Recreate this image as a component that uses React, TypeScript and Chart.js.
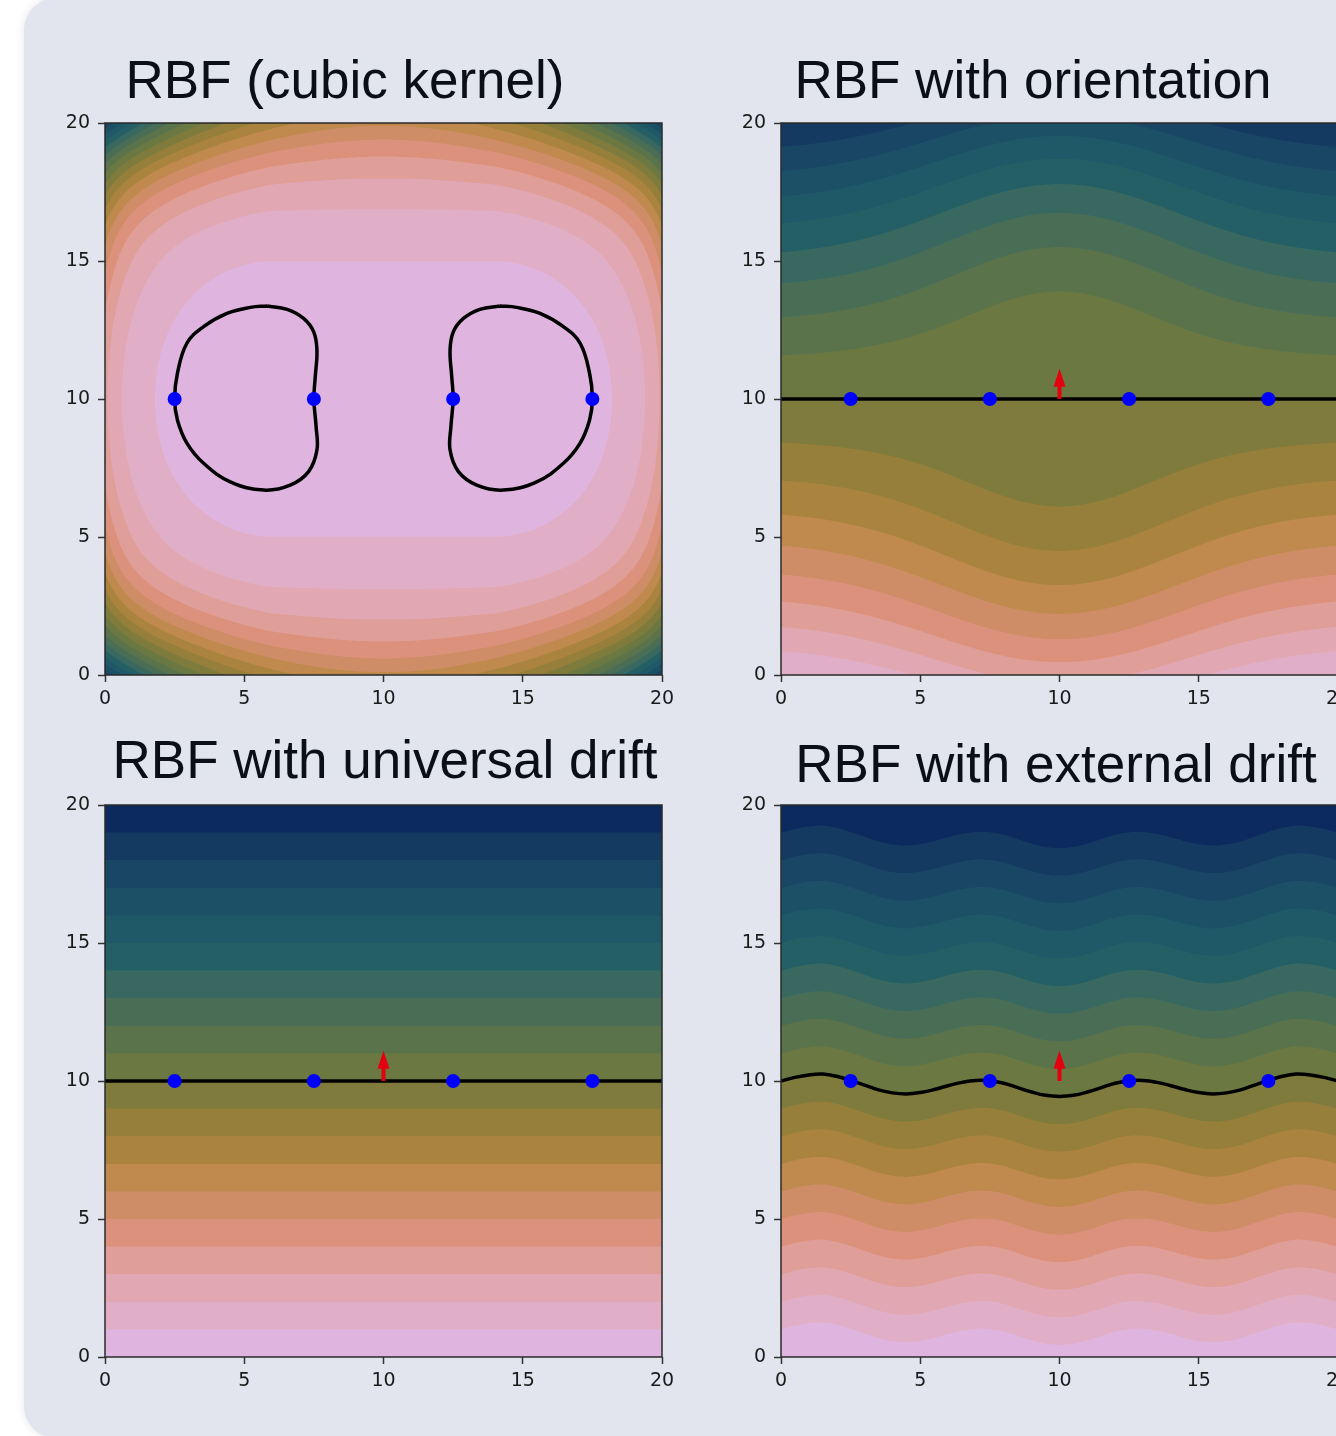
import React, { useEffect, useRef } from 'react';
import { Chart, registerables } from 'chart.js';

Chart.register(...registerables);

// ---------------- data ----------------
const axisTicks = [0, 5, 10, 15, 20];
const contourLevels = [0, 1, 2, 3, 4, 5, 6, 7, 8, 9, 10, 11, 12, 13, 14, 15, 16, 17, 18, 19, 20];
// fill colour of each band, lowest level (pink) to highest (navy)
const bandColors = [
  '#dfb5df', '#e0afc7', '#e1a7b2', '#e09e98', '#dc917c', '#cf8d67', '#c08a4f', '#aa843f', '#967f3b', '#7f7b3c',
  '#6b7842', '#5b734a', '#4a6e55', '#38685f', '#255f66', '#1f5968', '#1b5066', '#184664', '#153a62', '#0d2a5f',
];

const panelTitles = ['RBF (cubic kernel)', 'RBF with orientation', 'RBF with universal drift', 'RBF with external drift'];

// interface points (blue) and orientation (red arrow)
const interfaceX = [2.5, 7.5, 12.5, 17.5];
const interfaceY = [10, 10, 10, 10];
const orientationX = [10];
const orientationY = [10];
const orientationDY = [1.1];

// zero contour of the cubic-kernel interpolant (two closed loops)
const loopLeftX = [5.82, 6.54, 7.13, 7.49, 7.61, 7.55, 7.5, 7.58, 7.61, 7.31, 6.65, 5.7, 4.5, 3.54, 2.94, 2.6, 2.5, 2.6, 2.94, 3.54, 4.38, 5.22, 5.82];
const loopLeftY = [13.37, 13.25, 12.92, 12.44, 11.78, 10.81, 10.0, 9.0, 8.15, 7.37, 6.88, 6.7, 7.0, 7.67, 8.4, 9.24, 10.0, 10.93, 12.02, 12.62, 13.1, 13.32, 13.37];
const loopRightX = [14.18, 13.46, 12.87, 12.51, 12.39, 12.45, 12.5, 12.42, 12.39, 12.69, 13.35, 14.3, 15.5, 16.46, 17.06, 17.4, 17.5, 17.4, 17.06, 16.46, 15.62, 14.78, 14.18];
const loopRightY = [13.37, 13.25, 12.92, 12.44, 11.78, 10.81, 10.0, 9.0, 8.15, 7.37, 6.88, 6.7, 7.0, 7.67, 8.4, 9.24, 10.0, 10.93, 12.02, 12.62, 13.1, 13.32, 13.37];

// flat zero contour (orientation / universal drift)
const flatContourX = [0, 20];
const flatContourY = [10, 10];

// wavy zero contour (external drift)
const driftX = [0, 0.5, 1, 1.5, 2, 2.5, 3, 3.5, 4, 4.5, 5, 5.5, 6, 6.5, 7, 7.5, 8, 8.5, 9, 9.5, 10,
  10.5, 11, 11.5, 12, 12.5, 13, 13.5, 14, 14.5, 15, 15.5, 16, 16.5, 17, 17.5, 18, 18.5, 19, 19.5, 20];
const driftY = [10.0, 10.13, 10.22, 10.25, 10.17, 10.02, 9.85, 9.68, 9.57, 9.53, 9.58, 9.69, 9.83, 9.95, 10.02, 10.01, 9.92, 9.76, 9.6, 9.48, 9.44,
  9.48, 9.6, 9.76, 9.92, 10.01, 10.02, 9.95, 9.83, 9.69, 9.58, 9.53, 9.57, 9.68, 9.85, 10.02, 10.17, 10.25, 10.22, 10.13, 10.0];

const cubicFlatHalf = [4.0];             // half-length of the flat top of the inner bands
const cubicInnerStretch = [1.15, 2.8e-5]; // inner bands: stretch beyond the flat part (linear, 6th power)
const cubicOuterStretch = [0.815];        // outer bands: nearly round
const cubicBlendRange = [5, 10];          // |y - 10| over which inner bands turn into outer ones
const cubicGrowth = [0.162, 0.365];       // level = a * exp(b * distance)
const orientEdgeCoefs = [0.62, 0.03];   // growth away from the line at the borders
const orientCentreCoefs = [0.0, 0.066]; // growth away from the line above the arrow
const orientSpread = [6];

// ---------------- layout ----------------
const W = 557;
const H = 552;
const PAD_L = 70;
const PAD_T = 20;
const PAD_R = 20;
const PAD_B = 45;
const panelBoxes = [
  { left: 105, top: 123, titleCx: 345, titleBase: 98 },
  { left: 781, top: 123, titleCx: 1033, titleBase: 98 },
  { left: 105, top: 805, titleCx: 385, titleBase: 778 },
  { left: 781, top: 805, titleCx: 1056, titleBase: 782 },
];

// ---------------- fields ----------------
const centreX = (interfaceX[0] + interfaceX[interfaceX.length - 1]) / 2;
const centreY = interfaceY[0];

function fieldCubic(x: number, y: number) {
  const dx = Math.abs(x - centreX);
  const dy = Math.abs(y - centreY);
  const u = Math.max(dx - cubicFlatHalf[0], 0);
  const u3 = u * u * u;
  const hi = cubicInnerStretch[0] * u + cubicInnerStretch[1] * u3 * u3;
  const ho = cubicOuterStretch[0] * dx;
  let s = (dy - cubicBlendRange[0]) / (cubicBlendRange[1] - cubicBlendRange[0]);
  s = Math.min(Math.max(s, 0), 1);
  const t = s * s * (3 - 2 * s);
  const h = (1 - t) * hi + t * ho;
  const dist = Math.sqrt(h * h + dy * dy);
  return cubicGrowth[0] * Math.exp(cubicGrowth[1] * dist);
}

function fieldOrientation(x: number, y: number) {
  const d = y - orientationY[0];
  const t = (x - orientationX[0]) / orientSpread[0];
  const w = Math.exp(-t * t);
  const a = orientEdgeCoefs[0] * (1 - w) + orientCentreCoefs[0] * w;
  const b = orientEdgeCoefs[1] * (1 - w) + orientCentreCoefs[1] * w;
  const ad = Math.abs(d);
  return contourLevels[10] + Math.sign(d) * (a * ad + b * ad * ad);
}

function fieldUniversal(_x: number, y: number) {
  return y;
}

function driftAt(x: number) {
  const step = driftX[1] - driftX[0];
  const n = driftY.length;
  let s = (x - driftX[0]) / step;
  if (s < 0) s = 0;
  if (s > n - 1) s = n - 1;
  let i = Math.floor(s);
  if (i >= n - 1) i = n - 2;
  const t = s - i;
  const p0 = driftY[Math.max(i - 1, 0)];
  const p1 = driftY[i];
  const p2 = driftY[i + 1];
  const p3 = driftY[Math.min(i + 2, n - 1)];
  return 0.5 * (2 * p1 + (-p0 + p2) * t + (2 * p0 - 5 * p1 + 4 * p2 - p3) * t * t + (-p0 + 3 * p1 - 3 * p2 + p3) * t * t * t);
}

function fieldExternal(x: number, y: number) {
  return y - (driftAt(x) - contourLevels[10]);
}

const fields = [fieldCubic, fieldOrientation, fieldUniversal, fieldExternal];

function hexToRgb(h: string) {
  const v = parseInt(h.slice(1), 16);
  return [(v >> 16) & 255, (v >> 8) & 255, v & 255];
}
const bandRgb = bandColors.map(hexToRgb);

function bandIndex(f: number) {
  let k = 0;
  for (let i = 1; i < contourLevels.length - 1; i++) {
    if (f >= contourLevels[i]) k = i;
  }
  return k;
}

function makeFieldPlugin(field: (x: number, y: number) => number) {
  return {
    id: 'contourFill',
    beforeDatasetsDraw(chart: any) {
      const { ctx, chartArea: ca, scales } = chart;
      const xs = scales.x;
      const ys = scales.y;
      const left = Math.round(ca.left);
      const top = Math.round(ca.top);
      const w = Math.round(ca.right - ca.left);
      const h = Math.round(ca.bottom - ca.top);
      const S = 2;
      const xv: number[] = [];
      const yv: number[] = [];
      for (let i = 0; i < w * S; i++) xv.push(xs.getValueForPixel(left + (i + 0.5) / S));
      for (let j = 0; j < h * S; j++) yv.push(ys.getValueForPixel(top + (j + 0.5) / S));
      const img = ctx.createImageData(w, h);
      const d = img.data;
      for (let j = 0; j < h; j++) {
        for (let i = 0; i < w; i++) {
          let r = 0, g = 0, b = 0;
          for (let sj = 0; sj < S; sj++) {
            for (let si = 0; si < S; si++) {
              const c = bandRgb[bandIndex(field(xv[i * S + si], yv[j * S + sj]))];
              r += c[0]; g += c[1]; b += c[2];
            }
          }
          const o = (j * w + i) * 4;
          d[o] = r / (S * S);
          d[o + 1] = g / (S * S);
          d[o + 2] = b / (S * S);
          d[o + 3] = 255;
        }
      }
      ctx.putImageData(img, left, top);
    },
  };
}

const arrowPlugin = {
  id: 'orientationArrow',
  afterDatasetsDraw(chart: any) {
    const { ctx, scales } = chart;
    ctx.save();
    ctx.fillStyle = '#e3000f';
    for (let k = 0; k < orientationX.length; k++) {
      const px = scales.x.getPixelForValue(orientationX[k]);
      const py0 = scales.y.getPixelForValue(orientationY[k]);
      const py1 = scales.y.getPixelForValue(orientationY[k] + orientationDY[k]);
      const headLen = 18;
      const headHalf = 6;
      const shaftHalf = 2;
      const base = py1 + headLen;
      ctx.beginPath();
      ctx.moveTo(px - shaftHalf, py0);
      ctx.lineTo(px - shaftHalf, base);
      ctx.lineTo(px - headHalf, base);
      ctx.lineTo(px, py1);
      ctx.lineTo(px + headHalf, base);
      ctx.lineTo(px + shaftHalf, base);
      ctx.lineTo(px + shaftHalf, py0);
      ctx.closePath();
      ctx.fill();
    }
    ctx.restore();
  },
};

const framePlugin = {
  id: 'frame',
  afterDraw(chart: any) {
    const { ctx, chartArea: ca } = chart;
    ctx.save();
    ctx.strokeStyle = '#2a2a2a';
    ctx.lineWidth = 1.5;
    ctx.strokeRect(ca.left, ca.top, ca.right - ca.left, ca.bottom - ca.top);
    ctx.restore();
  },
};

function toPoints(xs: number[], ys: number[]) {
  return xs.map((x, i) => ({ x, y: ys[i] }));
}

function lineDataset(xs: number[], ys: number[]) {
  return {
    type: 'scatter',
    data: toPoints(xs, ys),
    showLine: true,
    borderColor: '#000000',
    borderWidth: 3.5,
    pointRadius: 0,
    tension: 0.4,
    fill: false,
    order: 2,
  };
}

function buildDatasets(kind: number) {
  const sets: any[] = [];
  if (kind === 0) {
    sets.push(lineDataset(loopLeftX, loopLeftY));
    sets.push(lineDataset(loopRightX, loopRightY));
  } else if (kind === 3) {
    sets.push(lineDataset(driftX, driftY));
  } else {
    sets.push({ ...lineDataset(flatContourX, flatContourY), tension: 0 });
  }
  sets.push({
    type: 'scatter',
    data: toPoints(interfaceX, interfaceY),
    pointRadius: 7,
    pointHoverRadius: 7,
    backgroundColor: '#0000ff',
    borderWidth: 0,
    order: 0,
  });
  return sets;
}

const tickFont = { family: "'DejaVu Sans', sans-serif", size: 19 };

function axis(isX: boolean) {
  return {
    type: 'linear',
    min: 0,
    max: 20,
    afterFit: (s: any) => {
      if (isX) s.height = PAD_B;
      else s.width = PAD_L;
    },
    afterBuildTicks: (s: any) => {
      s.ticks = axisTicks.map((v) => ({ value: v }));
    },
    ticks: {
      stepSize: 5,
      autoSkip: false,
      maxRotation: 0,
      color: '#1a1a1a',
      font: tickFont,
      padding: isX ? 6 : 8,
    },
    grid: {
      display: true,
      drawOnChartArea: false,
      drawTicks: true,
      tickLength: 7,
      tickWidth: 1.5,
      tickColor: '#333333',
    },
    border: { display: false },
  };
}

function Panel({ kind }: { kind: number }) {
  const ref = useRef<HTMLCanvasElement | null>(null);
  const box = panelBoxes[kind];
  useEffect(() => {
    if (!ref.current) return;
    const plugins: any[] = [makeFieldPlugin(fields[kind]), framePlugin];
    if (kind !== 0) plugins.push(arrowPlugin);
    const chart = new Chart(ref.current, {
      type: 'scatter',
      data: { datasets: buildDatasets(kind) as any },
      options: {
        responsive: false,
        animation: false,
        devicePixelRatio: 1,
        events: [],
        layout: { padding: { left: 0, top: PAD_T, right: PAD_R, bottom: 0 } },
        plugins: { legend: { display: false }, tooltip: { enabled: false }, title: { display: false } },
        scales: { x: axis(true) as any, y: axis(false) as any },
      },
      plugins,
    });
    return () => chart.destroy();
  }, [kind]);
  const cw = PAD_L + W + PAD_R;
  const chh = PAD_T + H + PAD_B;
  return (
    <canvas
      ref={ref}
      width={cw}
      height={chh}
      style={{ position: 'absolute', left: box.left - PAD_L, top: box.top - PAD_T, width: cw, height: chh }}
    />
  );
}

export default function App() {
  return (
    <div style={{ position: 'absolute', left: 0, top: 0, width: 1336, height: 1436, overflow: 'hidden', background: '#ffffff' }}>
      <div
        style={{
          position: 'absolute', left: 24, top: -2, width: 1420, height: 1440,
          borderRadius: 32, background: '#e2e5ee', boxShadow: '0 0 10px rgba(0,0,0,0.10)',
        }}
      />
      {panelTitles.map((t, i) => (
        <div
          key={t}
          style={{
            position: 'absolute', left: panelBoxes[i].titleCx - 400, width: 800, top: panelBoxes[i].titleBase - 45,
            textAlign: 'center', whiteSpace: 'nowrap', fontFamily: "'Liberation Sans', Arial, sans-serif",
            fontSize: 53, lineHeight: '53px', color: '#0b0f1a',
          }}
        >
          {t}
        </div>
      ))}
      {[0, 1, 2, 3].map((k) => (
        <Panel key={k} kind={k} />
      ))}
    </div>
  );
}
